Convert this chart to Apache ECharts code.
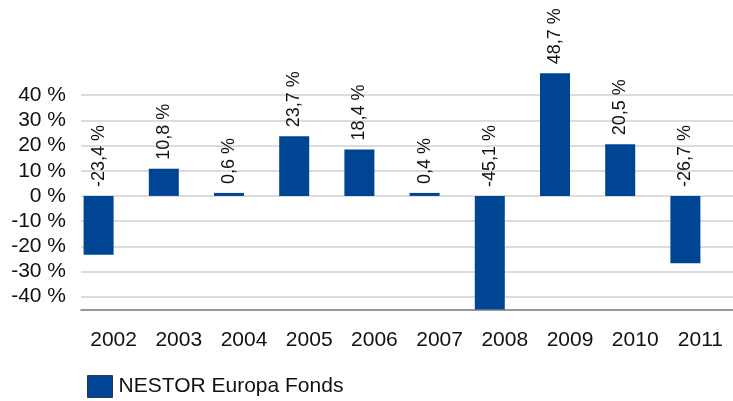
<!DOCTYPE html>
<html>
<head>
<meta charset="utf-8">
<script src="https://cdn.jsdelivr.net/npm/echarts@6/dist/echarts.min.js"></script>
<style>
html,body{margin:0;padding:0;background:#fff;}
#chart{width:733px;height:401px;}
</style>
</head>
<body>
<div id="chart"></div>
<script>
var categories = ['2002','2003','2004','2005','2006','2007','2008','2009','2010','2011'];
var fundValues = [-23.4, 10.8, 0.6, 23.7, 18.4, 0.4, -45.1, 48.7, 20.5, -26.7];
var seriesName = 'NESTOR Europa Fonds';
var yTickValues = [-40, -30, -20, -10, 0, 10, 20, 30, 40];

var FONT = '"Liberation Sans", Arial, sans-serif';
var chart = echarts.init(document.getElementById('chart'), null, {renderer: 'canvas'});
chart.setOption({
  animation: false,
  backgroundColor: '#ffffff',
  textStyle: {fontFamily: FONT},
  grid: {left: 81, right: -7, top: 70, bottom: 91.5, containLabel: false},
  legend: {
    data: [seriesName],
    left: 82, top: 370,
    itemWidth: 25, itemHeight: 22, itemGap: 10,
    icon: 'rect',
    itemStyle: {borderColor: '#2a3a55', borderWidth: 1},
    textStyle: {fontFamily: FONT, fontSize: 21, color: '#111', padding: [0,0,0,1]}
  },
  xAxis: {
    type: 'category',
    data: categories,
    boundaryGap: true,
    axisLine: {onZero: false, lineStyle: {color: '#777', width: 1.5}},
    axisTick: {alignWithLabel: true, length: 5, lineStyle: {color: '#555', width: 1}},
    axisLabel: {fontFamily: FONT, fontSize: 21, color: '#111', margin: 20},
    splitLine: {show: false}
  },
  yAxis: {
    type: 'value',
    min: -45.1,
    max: 50,
    axisLine: {show: false},
    axisTick: {show: false, customValues: yTickValues},
    axisLabel: {
      customValues: yTickValues,
      fontFamily: FONT, fontSize: 21, color: '#111', margin: 15,
      formatter: function (v) { return v + ' %'; }
    },
    splitLine: {show: true, lineStyle: {color: '#d0d0d0', width: 1.5}}
  },
  series: [
    {
      name: seriesName,
      type: 'bar',
      data: fundValues,
      barWidth: 30,
      barGap: '0%',
      barMinHeight: 3,
      itemStyle: {color: '#004494'},
      label: {
        show: true,
        position: 'top',
        distance: 9,
        rotate: 90,
        align: 'left',
        verticalAlign: 'middle',
        fontFamily: FONT,
        fontSize: 18,
        color: '#111',
        formatter: function (p) { return p.value.toFixed(1).replace('.', ',') + ' %'; }
      }
    },
    {
      name: 'spacer',
      type: 'bar',
      data: categories.map(function () { return null; }),
      barWidth: 30,
      barGap: '0%',
      itemStyle: {color: 'transparent'}
    }
  ]
});
</script>
</body>
</html>
